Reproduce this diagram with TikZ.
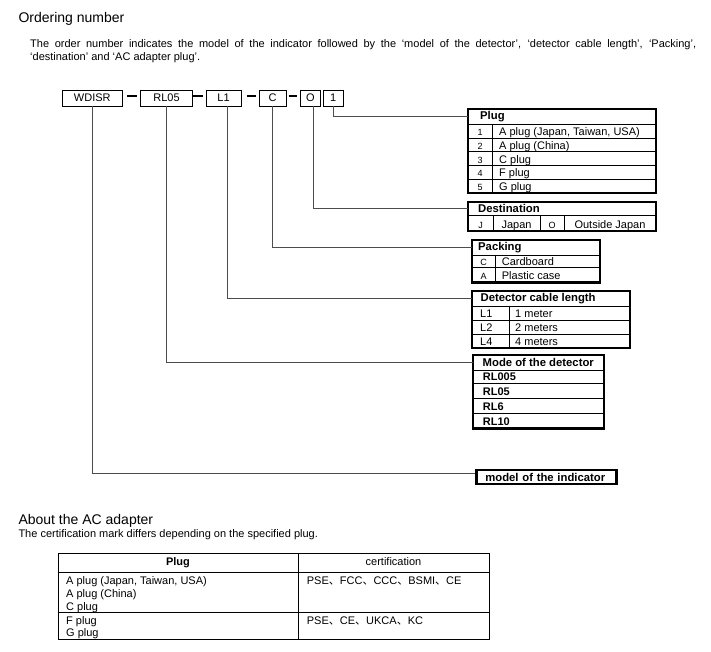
\documentclass[tikz,border=0pt]{standalone}
\usepackage{fontspec}
\setmainfont{Liberation Sans}
\newfontfamily\cjk{Noto Sans CJK JP}
\usepackage{tikz}
\usetikzlibrary{positioning}
\newcommand{\fsz}[1]{\fontsize{#1}{#1}\selectfont}

\begin{document}
\begin{tikzpicture}[x=1pt, y=-1pt,
  idbox/.style={draw, line width=0.8pt, minimum height=16pt, inner sep=0pt, font=\fsz{11}},
  bar/.style={line width=2.2pt},
  frame/.style={line width=2.6pt},
  rule/.style={line width=0.8pt},
  cell/.style={anchor=base west, inner sep=0pt, font=\fsz{11}},
  ctr/.style={anchor=base, inner sep=0pt, font=\fsz{11}},
  code/.style={anchor=base, inner sep=0pt, font=\fsz{9}},
  hdr/.style={anchor=west, inner ysep=0pt, font=\fsz{11.3}\bfseries},
  link/.style={draw=black!70, line width=0.9pt}
]
  \useasboundingbox (0,0) rectangle (711,652);

  % heading and intro
  \node[cell, font=\fsz{14}] (title) at (18.3,22.7) {Ordering number};
  \node[cell] (intro1) at (30,47.3) {\makebox[666pt][s]{The order number indicates the model of the indicator followed by the ‘model of the detector’, ‘detector cable length’, ‘Packing’,}};
  \node[cell] (intro2) at (30,60.3) {‘destination’ and ‘AC adapter plug’.};

  % order number boxes
  \node[idbox, minimum width=60pt] (wdisr) at (92.3,98) {WDISR};
  \node[idbox, minimum width=51.6pt] (rl) at (166.5,98) {RL05};
  \node[idbox, minimum width=35pt] (len) at (223.5,98) {L1};
  \node[idbox, minimum width=26.7pt] (pack) at (272.6,98) {C};
  \node[idbox, minimum width=20.7pt] (dest) at (310.4,98) {O};
  \node[idbox, minimum width=20pt] (plugno) at (333.3,98) {1};
  \foreach \a/\b in {127/137, 193.3/202.7, 247.3/256, 288.7/296.7}
    \draw[bar] (\a,96) -- (\b,96);

  % Plug
  \draw[frame] (468,109) rectangle (656,193);
  \foreach \y in {124.5,138.2,151.9,165.6,179.3}
    \draw[rule] (468,\y) -- (656,\y);
  \draw[rule] (492,124.5) -- (492,193);
  \node[hdr, inner xsep=12pt] (plughd) at (468,116.8) {Plug};
  \foreach \n/\t/\y in {1/A plug (Japan{,} Taiwan{,} USA)/135.7, 2/A plug (China)/149.4,
      3/C plug/163.1, 4/F plug/176.8, 5/G plug/190.5}{
    \node[code] at (480,\y) {\n};
    \node[cell] at (499,\y) {\t};
  }

  % Destination
  \draw[frame] (468,202) rectangle (656,231);
  \draw[rule] (468,215.5) -- (656,215.5);
  \foreach \x in {493,540,564}
    \draw[rule] (\x,215.5) -- (\x,231);
  \node[hdr, inner xsep=10pt] (desthd) at (468,208.7) {Destination};
  \node[code] at (480.5,228.5) {J};
  \node[ctr] at (516.5,228.5) {Japan};
  \node[code] at (552,228.5) {O};
  \node[ctr] at (610,228.5) {Outside Japan};

  % Packing
  \draw[frame] (472,240) rectangle (600,282.3);
  \draw[rule] (472,255) -- (600,255);
  \draw[rule] (472,267.5) -- (600,267.5);
  \draw[rule] (495,255) -- (495,282.3);
  \node[hdr, inner xsep=6pt] (packhd) at (472,247.5) {Packing};
  \node[code] at (483.5,265) {C};
  \node[cell] at (501.7,265) {Cardboard};
  \node[code] at (483.5,279.8) {A};
  \node[cell] at (501.7,279.8) {Plastic case};

  % Detector cable length
  \draw[frame] (472,291) rectangle (630,348);
  \foreach \y in {306,320,334}
    \draw[rule] (472,\y) -- (630,\y);
  \draw[rule] (509,306) -- (509,348);
  \node[hdr, inner xsep=8.5pt] (lenhd) at (472,298.5) {Detector cable length};
  \foreach \c/\t/\y in {L1/1 meter/317.5, L2/2 meters/331.5, L4/4 meters/345.5}{
    \node[cell] at (480,\y) {\c};
    \node[cell] at (515,\y) {\t};
  }

  % Mode of the detector
  \draw[frame] (473,355) rectangle (604,428.3);
  \foreach \y in {370,383.3,398.3,413.3}
    \draw[rule] (473,\y) -- (604,\y);
  \node[hdr, inner xsep=9.5pt] (modehd) at (473,362.5) {Mode of the detector};
  \foreach \t/\y in {RL005/380.8, RL05/395.8, RL6/410.8, RL10/425.8}
    \node[cell, font=\fsz{11}\bfseries] at (482.7,\y) {\t};

  % model of the indicator
  \node[hdr, draw, frame, inner xsep=9pt, text width=122pt, minimum height=14pt] (indic) at (475,477) {model of the indicator};

  % connectors
  \draw[link] (plugno.south) |- (plughd.west);
  \draw[link] ([xshift=3pt]dest.south) |- (desthd.west);
  \draw[link] (pack.south) |- (packhd.west);
  \draw[link] ([xshift=3.8pt]len.south) |- (lenhd.west);
  \draw[link] (rl.south) |- (modehd.west);
  \draw[link] (wdisr.south) |- ([yshift=3.5pt]indic.west);

  % AC adapter
  \node[cell, font=\fsz{14}] (adtitle) at (18.3,524) {About the AC adapter};
  \node[cell] (adnote) at (18.3,537.3) {The certification mark differs depending on the specified plug.};
  \draw[line width=1pt] (58,553.3) rectangle (489,639.3);
  \draw[line width=1pt] (58,572.3) -- (489,572.3);
  \draw[line width=1pt] (58,612.3) -- (489,612.3);
  \draw[line width=1pt] (298,553.3) -- (298,639.3);
  \node[ctr, font=\fsz{11}\bfseries] (plugcol) at (178,565) {Plug};
  \node[ctr] (certcol) at (393.5,565) {certification};
  \node[cell] at (66,584.3) {A plug (Japan, Taiwan, USA)};
  \node[cell] at (66,597.2) {A plug (China)};
  \node[cell] at (66,610) {C plug};
  \node[cell] at (66,624) {F plug};
  \node[cell] at (66,636.8) {G plug};
  \node[cell] at (306.7,584.3) {PSE{\cjk 、}FCC{\cjk 、}CCC{\cjk 、}BSMI{\cjk 、}CE};
  \node[cell] at (306.7,624.3) {PSE{\cjk 、}CE{\cjk 、}UKCA{\cjk 、}KC};
\end{tikzpicture}
\end{document}
